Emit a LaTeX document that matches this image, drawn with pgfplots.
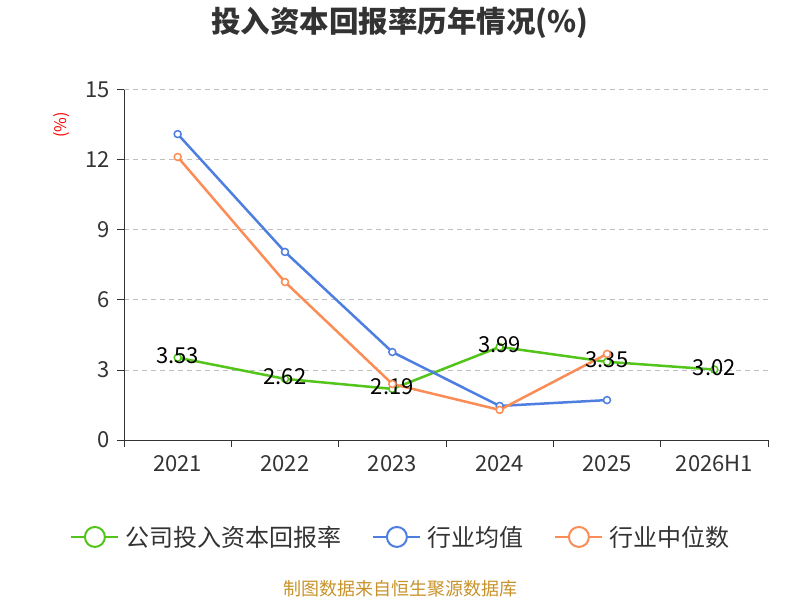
\documentclass[border=0pt]{standalone}
\usepackage{pgfplots}
\pgfplotsset{compat=1.18}
\usepackage{fontspec}
\setmainfont{Noto Sans CJK SC}
\definecolor{cgreen}{HTML}{52C41A}
\definecolor{cblue}{HTML}{4E7FE0}
\definecolor{corange}{HTML}{FB8C56}
\definecolor{ctext}{HTML}{333333}
\definecolor{csrc}{HTML}{C8922A}
\begin{document}
\begin{tikzpicture}
\useasboundingbox (0pt,0pt) rectangle (800pt,600pt);
\node[font=\bfseries\fontsize{29.5}{32}\selectfont, text=ctext] at (400pt,577pt) {投入资本回报率历年情况(\%)};
\node[rotate=90, text=red, font=\fontsize{16}{18}\selectfont] at (62pt,475pt) {(\%)};
\node[text=csrc, font=\fontsize{18}{20}\selectfont] at (400pt,11pt) {制图数据来自恒生聚源数据库};
\begin{axis}[
  at={(124pt,160pt)}, anchor=south west,
  width=644pt, height=350pt, scale only axis,
  xmin=-0.5, xmax=5.5, ymin=0, ymax=15,
  ytick={0,3,...,15},
  xtick={0,...,5},
  xticklabels={2021,2022,2023,2024,2025,2026H1},
  minor xtick={-0.5,0.5,...,5.5},
  axis lines=left,
  axis line style={-, draw=ctext, line width=1pt},
  xtick style={draw=none},
  minor x tick style={draw=ctext, line width=1pt},
  ytick style={draw=ctext, line width=1pt},
  tick align=outside,
  major tick length=7pt, minor tick length=7pt,
  ymajorgrids,
  grid style={draw=black!25, line width=1pt, dash pattern=on 5pt off 4pt},
  ticklabel style={font=\fontsize{22}{24}\selectfont, text=ctext},
  xticklabel style={yshift=-5pt},
  yticklabel style={xshift=-4pt},
  /pgf/number format/assume math mode=true,
  legend columns=3,
  legend style={at={(0.43,-0.277)}, anchor=center, draw=none, fill=none,
    font=\fontsize{24}{26}\selectfont, text=ctext,
    /tikz/every even column/.append style={column sep=29pt},
    /tikz/every odd column/.append style={column sep=4pt}},
  legend image code/.code={
    \draw[#1, line width=2pt] (0pt,0pt) -- (47pt,0pt);
    \draw[#1, line width=2pt, fill=white] (23.5pt,0pt) circle (10pt);
  },
]
\addplot[cgreen, line width=2.5pt, mark=*, mark options={fill=white, line width=1.5pt}, mark size=3.5pt,
  nodes near coords, point meta=explicit symbolic,
  every node near coord/.append style={anchor=center, yshift=2pt, text=black, font=\fontsize{22}{24}\selectfont}]
  coordinates {(0,3.53)[3.53] (1,2.62)[2.62] (2,2.19)[2.19] (3,3.99)[3.99] (4,3.35)[3.35] (5,3.02)[3.02]};
\addlegendentry{公司投入资本回报率}
\addplot[cblue, line width=2.5pt, mark=*, mark options={fill=white, line width=1.5pt}, mark size=3.5pt]
  coordinates {(0,13.11) (1,8.06) (2,3.77) (3,1.46) (4,1.71)};
\addlegendentry{行业均值}
\addplot[corange, line width=2.5pt, mark=*, mark options={fill=white, line width=1.5pt}, mark size=3.5pt]
  coordinates {(0,12.13) (1,6.77) (2,2.40) (3,1.29) (4,3.69)};
\addlegendentry{行业中位数}
\end{axis}
\end{tikzpicture}
\end{document}
